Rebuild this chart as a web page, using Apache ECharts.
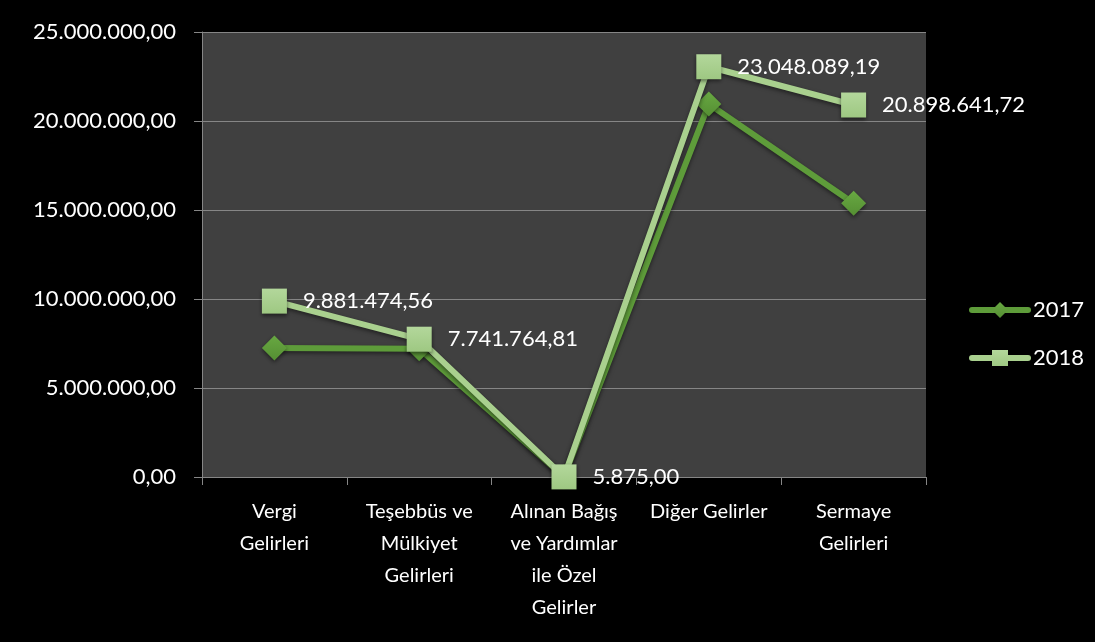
<!DOCTYPE html>
<html>
<head>
<meta charset="utf-8">
<title>Gelirler 2017-2018</title>
<script src="https://cdn.jsdelivr.net/npm/echarts@6/dist/echarts.min.js"></script>
<style>
  html, body { margin: 0; padding: 0; background: #000; }
  #chart { width: 1095px; height: 642px; }
</style>
</head>
<body>
<div id="chart"></div>
<script>
// kategori isimleri (satir sonlari resimdeki gibi)
const categories = [
  'Vergi\nGelirleri',
  'Teşebbüs ve\nMülkiyet\nGelirleri',
  'Alınan Bağış\nve Yardımlar\nile Özel\nGelirler',
  'Diğer Gelirler',
  'Sermaye\nGelirleri'
]
const values2017 = [7250000, 7200000, 20000, 20950000, 15380000]
const values2018 = [9881474.56, 7741764.81, 5875.00, 23048089.19, 20898641.72]
const yTicks = { min: 0, max: 25000000, interval: 5000000 }

const FONT = 'Lato'
const C2017 = '#5e9c3a'
const C2018 = '#a9d08e'

// 1234567.8 -> 1.234.567,80
function trFormat(v) {
  const parts = Number(v).toFixed(2).split('.')
  const intPart = parts[0].replace(/\B(?=(\d{3})+(?!\d))/g, '.')
  return intPart + ',' + parts[1]
}

const chart = echarts.init(document.getElementById('chart'))
chart.setOption({
  backgroundColor: '#000000',
  animation: false,
  textStyle: { fontFamily: FONT },
  grid: {
    left: 202,
    right: 169,
    top: 32,
    bottom: 165,
    show: true,
    backgroundColor: '#404040',
    borderWidth: 0
  },
  legend: {
    orient: 'vertical',
    left: 964,
    top: 294,
    itemWidth: 56,
    itemHeight: 20,
    itemGap: 26,
    lineStyle: { width: 6, cap: 'round' },
    textStyle: { color: '#ffffff', fontSize: 22, fontFamily: FONT },
    data: ['2017', '2018']
  },
  xAxis: {
    type: 'category',
    data: categories,
    boundaryGap: true,
    axisLine: { show: true, lineStyle: { color: '#868686', width: 1 } },
    axisTick: { show: true, length: 8, alignWithLabel: false, lineStyle: { color: '#868686' } },
    axisLabel: {
      interval: 0,
      color: '#ffffff',
      fontSize: 20,
      lineHeight: 32,
      margin: 19,
      fontFamily: FONT
    }
  },
  yAxis: {
    type: 'value',
    min: yTicks.min,
    max: yTicks.max,
    interval: yTicks.interval,
    axisLine: { show: true, lineStyle: { color: '#868686', width: 1 } },
    axisTick: { show: true, length: 8, lineStyle: { color: '#868686' } },
    splitLine: { show: true, lineStyle: { color: '#868686', width: 1 } },
    axisLabel: {
      color: '#ffffff',
      fontSize: 22,
      margin: 26,
      fontFamily: FONT,
      formatter: trFormat
    }
  },
  series: [
    {
      name: '2017',
      type: 'line',
      data: values2017,
      symbol: 'diamond',
      symbolSize: 25,
      color: C2017,
      lineStyle: {
        color: C2017,
        width: 6,
        shadowColor: 'rgba(0,0,0,0.5)',
        shadowBlur: 4,
        shadowOffsetY: 2
      },
      itemStyle: {
        color: new echarts.graphic.LinearGradient(0, 0, 0, 1, [
          { offset: 0, color: '#68a842' },
          { offset: 1, color: '#558f33' }
        ]),
        shadowColor: 'rgba(0,0,0,0.5)',
        shadowBlur: 4,
        shadowOffsetY: 2
      },
      z: 2
    },
    {
      name: '2018',
      type: 'line',
      data: values2018,
      symbol: 'rect',
      symbolSize: 25,
      color: C2018,
      lineStyle: {
        color: C2018,
        width: 6,
        shadowColor: 'rgba(0,0,0,0.5)',
        shadowBlur: 4,
        shadowOffsetY: 2
      },
      itemStyle: {
        color: new echarts.graphic.LinearGradient(0, 0, 0, 1, [
          { offset: 0, color: '#b3d79b' },
          { offset: 1, color: '#9ec882' }
        ]),
        shadowColor: 'rgba(0,0,0,0.5)',
        shadowBlur: 4,
        shadowOffsetY: 2
      },
      label: {
        show: true,
        position: 'right',
        distance: 16,
        color: '#ffffff',
        fontSize: 22,
        fontFamily: FONT,
        formatter: p => trFormat(p.value)
      },
      z: 3
    }
  ]
})
</script>
</body>
</html>
